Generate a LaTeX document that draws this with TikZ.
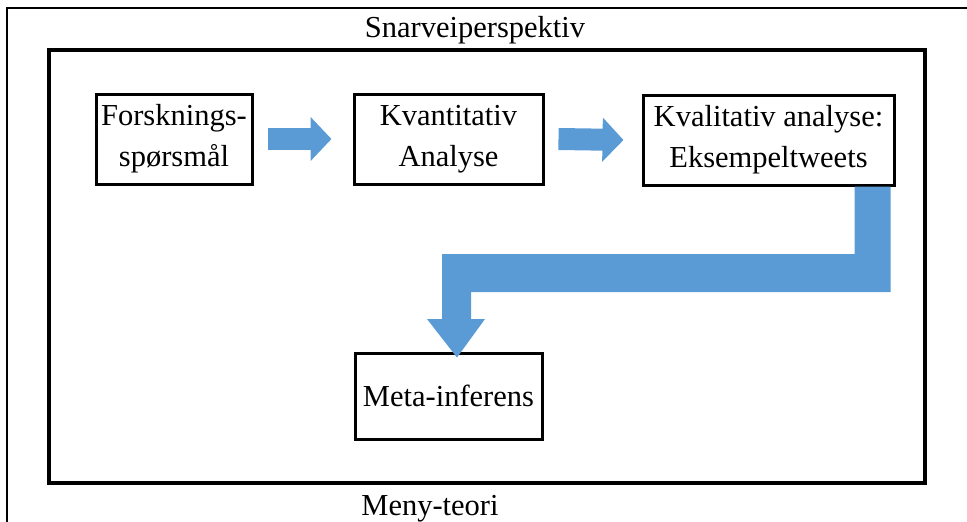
\documentclass[tikz,border=0pt]{standalone}
\usepackage{fontspec}
\setmainfont{Liberation Serif}
\usepackage{xcolor}
\usetikzlibrary{arrows.meta,positioning}
\definecolor{flowblue}{RGB}{91,155,213}

\begin{document}
\begin{tikzpicture}[
    x=1pt, y=-1pt,
    font=\fontsize{30.5}{41}\selectfont,
    box/.style={
      draw,
      line width=3pt,
      align=center,
      inner sep=0pt,
      minimum height=90pt
    },
    flow/.style={
      flowblue,
      line width=22pt,
      -{Triangle[length=21pt,width=43pt]}
    }
  ]
    \useasboundingbox (0,0) rectangle (967,522);
    % frames
    \draw[line width=1.5pt] (7,522) -- (7,8) -- (967,8);
    \draw[line width=3.5pt] (49,50) rectangle (925,483);
    \node[anchor=base] (top) at (475,37) {Snarveiperspektiv};
    \node[anchor=base] (bottom) at (430,515) {Meny-teori};

    \node[box, minimum width=156pt] (fs) at (174,139) {Forsknings-\\spørsmål};
    \node[box, minimum width=189pt] (ka) at (448.5,139) {Kvantitativ\\Analyse};
    \node[box, minimum width=251pt] (kl) at (768.5,140) {Kvalitativ analyse:\\ Eksempeltweets};
    \node[box, minimum width=187pt, minimum height=86pt] (mi) at (448.5,396) {Meta-inferens};

    \draw[flow] ([xshift=14pt]fs.east) -- ([xshift=-21pt]ka.west);
    \draw[flow] ([xshift=14pt]ka.east) -- ([xshift=-18pt]kl.west);

    % elbow arrow
    \coordinate (e1) at ([xshift=-41pt]kl.south east);
    \coordinate (e2) at ([xshift=-5pt]kl.south east);
    \coordinate (tip) at ([xshift=8.5pt,yshift=-6pt]mi.north);
    \fill[flowblue] (e1) -- (e2) -- (e2 |- 0,292) -- (471,292) -- (471,319)
      -- (485,319) -- (tip) -- (427,319) -- (442,319) -- (442,254)
      -- (e1 |- 0,254) -- cycle;
  \end{tikzpicture}
\end{document}
